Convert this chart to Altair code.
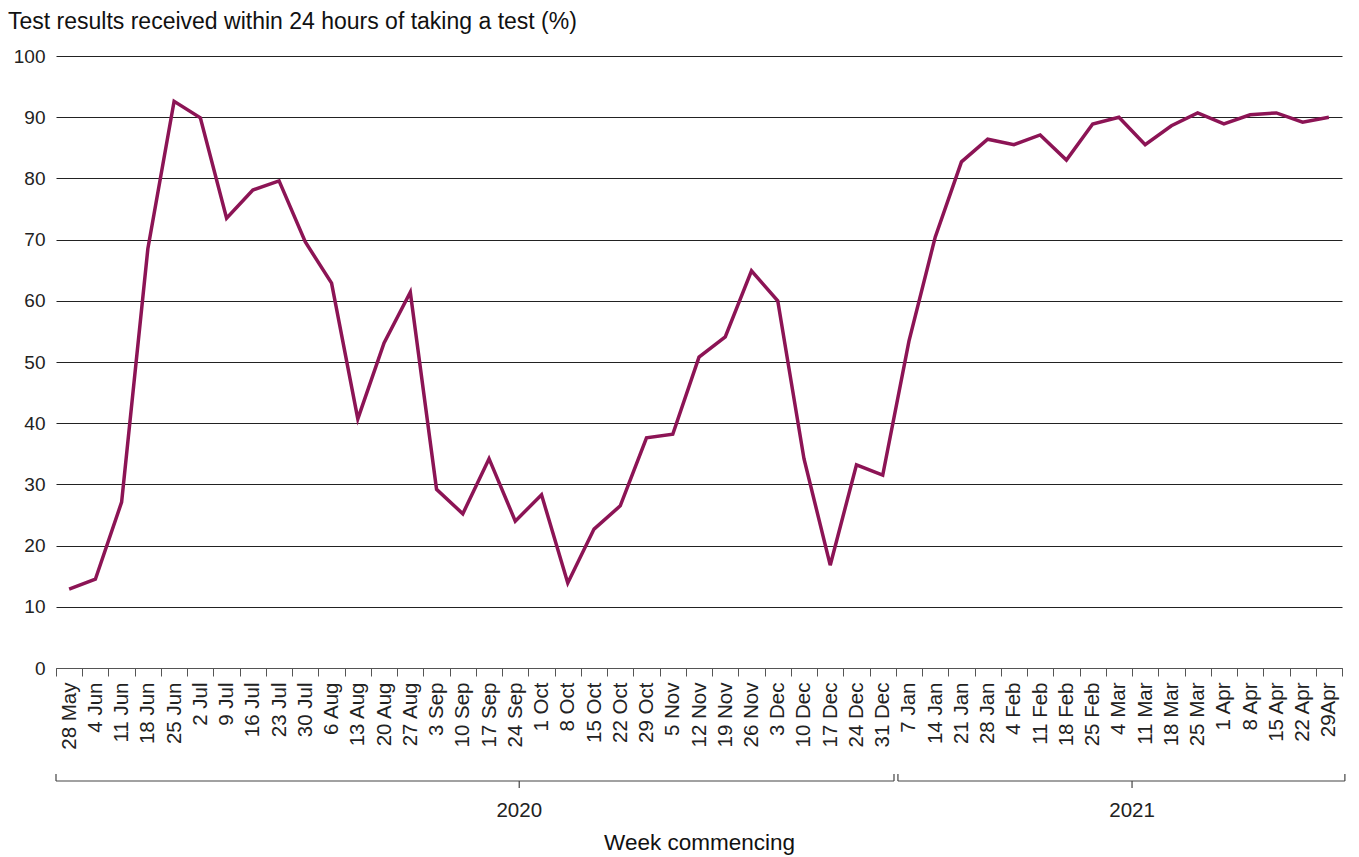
import altair as alt
import pandas as pd

weeks = ["28 May", "4 Jun", "11 Jun", "18 Jun", "25 Jun", "2 Jul", "9 Jul", "16 Jul", "23 Jul", "30 Jul",
         "6 Aug", "13 Aug", "20 Aug", "27 Aug", "3 Sep", "10 Sep", "17 Sep", "24 Sep", "1 Oct", "8 Oct",
         "15 Oct", "22 Oct", "29 Oct", "5 Nov", "12 Nov", "19 Nov", "26 Nov", "3 Dec", "10 Dec", "17 Dec",
         "24 Dec", "31 Dec", "7 Jan", "14 Jan", "21 Jan", "28 Jan", "4 Feb", "11 Feb", "18 Feb", "25 Feb",
         "4 Mar", "11 Mar", "18 Mar", "25 Mar", "1 Apr", "8 Apr", "15 Apr", "22 Apr", "29Apr"]

values = [12.9, 14.5, 27.1, 68.5, 92.6, 89.9, 73.5, 78.1, 79.6, 69.6,
          62.9, 40.7, 53.1, 61.4, 29.2, 25.2, 34.2, 24.0, 28.3, 13.9,
          22.7, 26.5, 37.6, 38.2, 50.8, 54.1, 64.9, 60.0, 34.2, 16.8,
          33.2, 31.5, 53.4, 70.4, 82.7, 86.4, 85.5, 87.1, 83.0, 88.9,
          90.0, 85.5, 88.6, 90.7, 88.9, 90.4, 90.7, 89.2, 90.0]

# year groups along the week axis (in week-slot units, 0 = left edge of first week)
years = ["2020", "2021"]
year_start = [0.0, 32.08]
year_end = [31.93, 49.11]
year_label_pos = [17.65, 41.0]

y_ticks = list(range(0, 101, 10))

FONT = "Liberation Sans"
LINE_COLOR = "#8C1455"
W, H = 1286, 612
N = len(weeks)

df = pd.DataFrame({"week": weeks, "value": values})
yr = pd.DataFrame({"year": years, "start": year_start, "end": year_end, "mid": year_label_pos})
ends = pd.DataFrame({"pos": year_start + year_end})

line = alt.Chart(df).mark_line(color=LINE_COLOR, strokeWidth=3.5).encode(
    x=alt.X("week:O", sort=weeks,
            scale=alt.Scale(paddingInner=0, paddingOuter=0),
            axis=alt.Axis(title="Week commencing", labelAngle=270, labelAlign="right",
                          labelBaseline="middle", tickBand="extent", tickSize=8,
                          tickColor="#555", domainColor="#555", labelPadding=6,
                          labelFontSize=20.5, labelColor="#222", titleFontSize=22.5,
                          titleFontWeight="normal", titleColor="#111", titlePadding=82,
                          labelFont=FONT, titleFont=FONT)),
    y=alt.Y("value:Q", scale=alt.Scale(domain=[0, 100], nice=False),
            axis=alt.Axis(title=None, values=y_ticks, ticks=False, domain=False,
                          gridColor="#222", gridWidth=1, labelPadding=11,
                          minExtent=48, maxExtent=48,
                          labelFontSize=19, labelColor="#222", labelFont=FONT)),
)

xq = alt.Scale(domain=[0, N], nice=False, zero=False)

bracket = alt.Chart(yr).mark_rule(color="#444", strokeWidth=1.2).encode(
    x=alt.X("start:Q", scale=xq, axis=None),
    x2="end:Q",
    y=alt.value(H + 113),
)

end_ticks = alt.Chart(ends).mark_rule(color="#444", strokeWidth=1.2).encode(
    x=alt.X("pos:Q", scale=xq, axis=None),
    y=alt.value(H + 106),
    y2=alt.value(H + 113),
)

mid_ticks = alt.Chart(yr).mark_rule(color="#444", strokeWidth=1.2).encode(
    x=alt.X("mid:Q", scale=xq, axis=None),
    y=alt.value(H + 113),
    y2=alt.value(H + 120),
)

year_text = alt.Chart(yr).mark_text(font=FONT, fontSize=20.5, color="#222", baseline="middle").encode(
    x=alt.X("mid:Q", scale=xq, axis=None),
    y=alt.value(H + 143),
    text="year:N",
)

chart = alt.layer(line, bracket, end_ticks, mid_ticks, year_text).resolve_scale(
    x="independent"
).properties(
    width=W, height=H,
    padding={"left": 0, "top": 3, "right": 5, "bottom": 5},
    title=alt.TitleParams("Test results received within 24 hours of taking a test (%)",
                          anchor="start", frame="bounds", font=FONT, fontSize=23,
                          fontWeight="normal", color="#111", offset=13),
).configure_view(stroke=None)

chart.save("out.html", embed_options={"renderer": "svg", "actions": False})
